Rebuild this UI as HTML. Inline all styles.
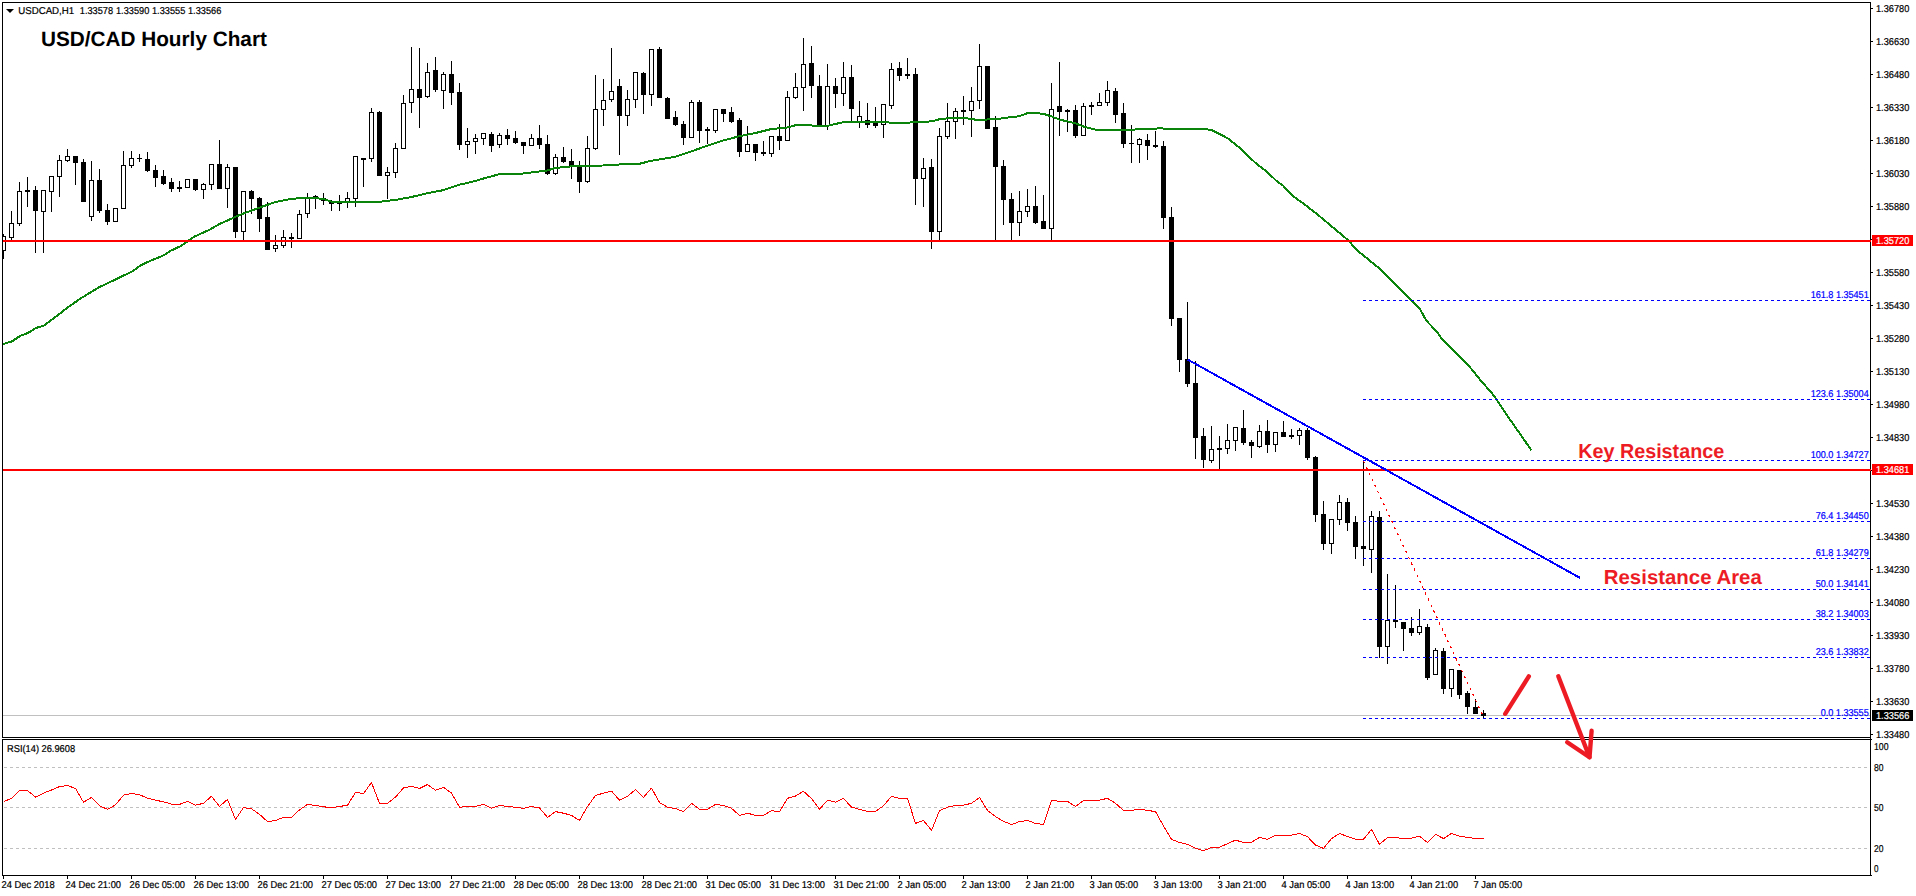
<!DOCTYPE html>
<html lang="en"><head><meta charset="utf-8"><title>USD/CAD Hourly Chart</title>
<style>html,body{margin:0;padding:0;background:#fff;overflow:hidden}svg{display:block}text{font-family:'Liberation Sans', sans-serif;white-space:pre;text-rendering:geometricPrecision}</style>
</head><body>
<svg width="1916" height="896" viewBox="0 0 1916 896">
<rect x="0" y="0" width="1916" height="896" fill="#fff"/>
<g shape-rendering="crispEdges">
<rect x="3" y="715" width="1867" height="1" fill="#c0c0c0"/>
<path fill="#000" d="M3 234h1v25h-1zM3 236h3v15h-3zM11 211h1v29h-1zM9 223h5v15h-5zM19 182h1v44h-1zM17 191h5v33h-5zM27 177h1v30h-1zM25 190h5v2h-5zM35 186h1v67h-1zM33 190h5v21h-5zM43 190h1v63h-1zM41 190h5v22h-5zM51 176h1v36h-1zM49 176h5v16h-5zM59 155h1v42h-1zM57 160h5v17h-5zM67 149h1v13h-1zM65 156h5v5h-5zM75 156h1v29h-1zM73 156h5v7h-5zM83 159h1v43h-1zM81 162h5v40h-5zM91 161h1v60h-1zM89 180h5v37h-5zM99 169h1v44h-1zM97 180h5v31h-5zM107 204h1v21h-1zM105 210h5v12h-5zM115 208h1v14h-1zM113 208h5v14h-5zM123 151h1v58h-1zM121 165h5v44h-5zM131 151h1v17h-1zM129 158h5v8h-5zM139 154h1v8h-1zM137 158h5v1h-5zM147 152h1v20h-1zM145 159h5v12h-5zM155 165h1v22h-1zM153 170h5v8h-5zM163 170h1v15h-1zM161 176h5v8h-5zM171 178h1v14h-1zM169 182h5v7h-5zM179 181h1v11h-1zM177 187h5v2h-5zM187 179h1v9h-1zM185 179h5v9h-5zM195 179h1v12h-1zM193 179h5v11h-5zM203 183h1v16h-1zM201 184h5v6h-5zM211 164h1v26h-1zM209 164h5v21h-5zM219 140h1v49h-1zM217 164h5v25h-5zM227 164h1v44h-1zM225 167h5v22h-5zM235 167h1v71h-1zM233 167h5v65h-5zM243 191h1v49h-1zM241 191h5v41h-5zM251 190h1v24h-1zM249 191h5v8h-5zM259 197h1v35h-1zM257 198h5v21h-5zM267 202h1v48h-1zM265 217h5v33h-5zM275 235h1v17h-1zM273 245h5v4h-5zM283 230h1v18h-1zM281 237h5v9h-5zM291 233h1v15h-1zM289 237h5v2h-5zM299 210h1v29h-1zM297 214h5v25h-5zM307 193h1v25h-1zM305 197h5v17h-5zM315 195h1v14h-1zM313 196h5v2h-5zM323 193h1v12h-1zM321 198h5v3h-5zM331 200h1v11h-1zM329 202h5v2h-5zM339 195h1v16h-1zM337 203h5v1h-5zM347 192h1v16h-1zM345 198h5v4h-5zM355 156h1v51h-1zM353 156h5v43h-5zM363 158h1v29h-1zM361 158h5v2h-5zM371 108h1v54h-1zM369 112h5v47h-5zM379 111h1v65h-1zM377 112h5v64h-5zM387 167h1v32h-1zM385 172h5v4h-5zM395 143h1v35h-1zM393 148h5v25h-5zM403 95h1v54h-1zM401 103h5v46h-5zM411 47h1v66h-1zM409 89h5v14h-5zM419 48h1v80h-1zM417 89h5v9h-5zM427 63h1v35h-1zM425 72h5v25h-5zM435 57h1v35h-1zM433 70h5v20h-5zM443 72h1v37h-1zM441 74h5v17h-5zM451 61h1v44h-1zM449 74h5v19h-5zM459 83h1v67h-1zM457 92h5v53h-5zM467 128h1v30h-1zM465 141h5v4h-5zM475 134h1v20h-1zM473 138h5v4h-5zM483 133h1v12h-1zM481 133h5v6h-5zM491 132h1v20h-1zM489 134h5v12h-5zM499 133h1v15h-1zM497 135h5v10h-5zM507 129h1v16h-1zM505 135h5v4h-5zM515 131h1v13h-1zM513 138h5v5h-5zM523 142h1v12h-1zM521 142h5v4h-5zM531 134h1v12h-1zM529 138h5v8h-5zM539 125h1v24h-1zM537 138h5v7h-5zM547 135h1v40h-1zM545 144h5v30h-5zM555 154h1v21h-1zM553 157h5v17h-5zM563 147h1v16h-1zM561 157h5v5h-5zM571 149h1v30h-1zM569 161h5v5h-5zM579 161h1v32h-1zM577 165h5v17h-5zM587 136h1v47h-1zM585 148h5v34h-5zM595 75h1v75h-1zM593 109h5v40h-5zM603 79h1v47h-1zM601 100h5v10h-5zM611 48h1v54h-1zM609 91h5v9h-5zM619 79h1v76h-1zM617 86h5v30h-5zM627 90h1v36h-1zM625 99h5v17h-5zM635 72h1v36h-1zM633 72h5v28h-5zM643 72h1v42h-1zM641 73h5v22h-5zM651 49h1v57h-1zM649 49h5v46h-5zM659 47h1v51h-1zM657 49h5v49h-5zM667 97h1v22h-1zM665 98h5v21h-5zM675 111h1v15h-1zM673 117h5v8h-5zM683 121h1v24h-1zM681 124h5v14h-5zM691 100h1v38h-1zM689 102h5v36h-5zM699 100h1v43h-1zM697 102h5v29h-5zM707 127h1v17h-1zM705 129h5v2h-5zM715 109h1v24h-1zM713 109h5v22h-5zM723 109h1v13h-1zM721 109h5v5h-5zM731 107h1v16h-1zM729 112h5v10h-5zM739 118h1v39h-1zM737 120h5v32h-5zM747 126h1v26h-1zM745 144h5v8h-5zM755 144h1v17h-1zM753 144h5v9h-5zM763 141h1v15h-1zM761 152h5v2h-5zM771 136h1v21h-1zM769 136h5v18h-5zM779 124h1v26h-1zM777 136h5v5h-5zM787 91h1v50h-1zM785 97h5v44h-5zM795 73h1v26h-1zM793 87h5v11h-5zM803 38h1v73h-1zM801 64h5v24h-5zM811 46h1v52h-1zM809 63h5v23h-5zM819 75h1v50h-1zM817 86h5v39h-5zM827 64h1v66h-1zM825 86h5v40h-5zM835 78h1v30h-1zM833 86h5v8h-5zM843 62h1v44h-1zM841 77h5v17h-5zM851 65h1v56h-1zM849 77h5v32h-5zM859 101h1v27h-1zM857 116h5v6h-5zM867 103h1v25h-1zM865 120h5v5h-5zM875 107h1v21h-1zM873 123h5v3h-5zM883 104h1v34h-1zM881 104h5v21h-5zM891 63h1v46h-1zM889 69h5v37h-5zM899 62h1v19h-1zM897 68h5v8h-5zM907 58h1v21h-1zM905 74h5v2h-5zM915 68h1v137h-1zM913 74h5v105h-5zM923 158h1v49h-1zM921 168h5v11h-5zM931 159h1v90h-1zM929 167h5v65h-5zM939 128h1v112h-1zM937 136h5v96h-5zM947 103h1v36h-1zM945 121h5v16h-5zM955 108h1v31h-1zM953 111h5v11h-5zM963 96h1v29h-1zM961 110h5v2h-5zM971 87h1v50h-1zM969 101h5v10h-5zM979 44h1v65h-1zM977 66h5v35h-5zM987 66h1v63h-1zM985 66h5v63h-5zM995 116h1v124h-1zM993 127h5v40h-5zM1003 160h1v65h-1zM1001 166h5v34h-5zM1011 193h1v47h-1zM1009 199h5v24h-5zM1019 191h1v45h-1zM1017 211h5v12h-5zM1027 189h1v28h-1zM1025 206h5v6h-5zM1035 186h1v38h-1zM1033 206h5v17h-5zM1043 195h1v34h-1zM1041 221h5v8h-5zM1051 83h1v157h-1zM1049 109h5v120h-5zM1059 62h1v74h-1zM1057 106h5v6h-5zM1067 109h1v23h-1zM1065 110h5v2h-5zM1075 105h1v33h-1zM1073 110h5v26h-5zM1083 103h1v33h-1zM1081 106h5v30h-5zM1091 102h1v13h-1zM1089 105h5v2h-5zM1099 93h1v13h-1zM1097 102h5v4h-5zM1107 81h1v25h-1zM1105 90h5v13h-5zM1115 88h1v35h-1zM1113 91h5v24h-5zM1123 103h1v45h-1zM1121 113h5v31h-5zM1131 125h1v38h-1zM1129 143h5v1h-5zM1139 138h1v25h-1zM1137 139h5v6h-5zM1147 134h1v26h-1zM1145 140h5v6h-5zM1155 131h1v17h-1zM1153 145h5v2h-5zM1163 141h1v88h-1zM1161 146h5v72h-5zM1171 207h1v119h-1zM1169 217h5v102h-5zM1179 318h1v54h-1zM1177 318h5v42h-5zM1187 302h1v85h-1zM1185 359h5v25h-5zM1195 361h1v98h-1zM1193 383h5v55h-5zM1203 428h1v40h-1zM1201 436h5v24h-5zM1211 426h1v37h-1zM1209 449h5v12h-5zM1219 436h1v33h-1zM1217 448h5v2h-5zM1227 424h1v30h-1zM1225 440h5v9h-5zM1235 427h1v24h-1zM1233 427h5v14h-5zM1243 410h1v35h-1zM1241 428h5v15h-5zM1251 440h1v18h-1zM1249 442h5v4h-5zM1259 425h1v23h-1zM1257 431h5v16h-5zM1267 420h1v33h-1zM1265 431h5v14h-5zM1275 432h1v20h-1zM1273 432h5v13h-5zM1283 421h1v16h-1zM1281 432h5v5h-5zM1291 429h1v10h-1zM1289 435h5v2h-5zM1299 428h1v17h-1zM1297 430h5v6h-5zM1307 428h1v32h-1zM1305 430h5v28h-5zM1315 456h1v66h-1zM1313 457h5v58h-5zM1323 501h1v49h-1zM1321 514h5v30h-5zM1331 519h1v35h-1zM1329 519h5v25h-5zM1339 495h1v30h-1zM1337 502h5v18h-5zM1347 498h1v33h-1zM1345 502h5v21h-5zM1355 516h1v43h-1zM1353 522h5v25h-5zM1363 461h1v105h-1zM1361 546h5v3h-5zM1371 511h1v62h-1zM1369 516h5v34h-5zM1379 511h1v147h-1zM1377 517h5v130h-5zM1387 574h1v90h-1zM1385 620h5v27h-5zM1395 585h1v43h-1zM1393 620h5v2h-5zM1403 622h1v29h-1zM1401 622h5v7h-5zM1411 617h1v19h-1zM1409 628h5v5h-5zM1419 609h1v26h-1zM1417 626h5v7h-5zM1427 624h1v56h-1zM1425 627h5v51h-5zM1435 648h1v27h-1zM1433 650h5v25h-5zM1443 648h1v46h-1zM1441 651h5v38h-5zM1451 669h1v28h-1zM1449 669h5v20h-5zM1459 670h1v29h-1zM1457 670h5v25h-5zM1467 691h1v23h-1zM1465 693h5v14h-5zM1475 699h1v15h-1zM1473 707h5v7h-5zM1483 710h1v8h-1zM1481 713h5v3h-5z"/>
<path fill="#fff" d="M3 237h2v13h-2zM10 224h3v13h-3zM18 192h3v31h-3zM42 191h3v20h-3zM50 177h3v14h-3zM58 161h3v15h-3zM66 157h3v3h-3zM90 181h3v35h-3zM114 209h3v12h-3zM122 166h3v42h-3zM130 159h3v6h-3zM186 180h3v7h-3zM202 185h3v4h-3zM210 165h3v19h-3zM226 168h3v20h-3zM242 192h3v39h-3zM274 246h3v2h-3zM282 238h3v7h-3zM298 215h3v23h-3zM306 198h3v15h-3zM346 199h3v2h-3zM354 157h3v41h-3zM370 113h3v45h-3zM386 173h3v2h-3zM394 149h3v23h-3zM402 104h3v44h-3zM410 90h3v12h-3zM426 73h3v23h-3zM442 75h3v15h-3zM466 142h3v2h-3zM474 139h3v2h-3zM482 134h3v4h-3zM498 136h3v8h-3zM530 139h3v6h-3zM554 158h3v15h-3zM586 149h3v32h-3zM594 110h3v38h-3zM602 101h3v8h-3zM610 92h3v7h-3zM626 100h3v15h-3zM634 73h3v26h-3zM650 50h3v44h-3zM690 103h3v34h-3zM714 110h3v20h-3zM746 145h3v6h-3zM770 137h3v16h-3zM786 98h3v42h-3zM794 88h3v9h-3zM802 65h3v22h-3zM826 87h3v38h-3zM842 78h3v15h-3zM858 117h3v4h-3zM882 105h3v19h-3zM890 70h3v35h-3zM922 169h3v9h-3zM938 137h3v94h-3zM946 122h3v14h-3zM954 112h3v9h-3zM970 102h3v8h-3zM978 67h3v33h-3zM1018 212h3v10h-3zM1026 207h3v4h-3zM1050 110h3v118h-3zM1082 107h3v28h-3zM1098 103h3v2h-3zM1106 91h3v11h-3zM1138 140h3v4h-3zM1210 450h3v10h-3zM1226 441h3v7h-3zM1234 428h3v12h-3zM1258 432h3v14h-3zM1274 433h3v11h-3zM1298 431h3v4h-3zM1330 520h3v23h-3zM1338 503h3v16h-3zM1370 517h3v32h-3zM1386 621h3v25h-3zM1418 627h3v5h-3zM1434 651h3v23h-3zM1450 670h3v18h-3z"/>
</g>
<polyline points="3.0,344.1 12.0,341.4 20.0,336.0 28.0,333.0 35.5,328.2 44.2,325.4 56.2,316.4 68.3,307.0 80.4,298.6 98.4,287.6 115.2,279.6 132.6,271.2 139.3,266.2 147.3,262.1 163.4,255.4 171.4,250.4 180.8,246.1 194.2,236.7 208.9,230.0 219.2,224.2 240.0,214.8 259.5,207.6 275.5,202.0 291.5,198.9 307.5,197.6 323.5,198.9 331.5,201.8 355.5,202.0 379.5,201.8 387.5,200.8 395.5,199.9 411.5,197.0 427.5,193.2 443.5,190.1 459.5,184.7 475.5,181.0 480.0,179.5 499.5,174.1 523.5,173.5 539.5,171.4 547.5,170.5 555.5,167.9 571.5,166.4 579.5,165.7 603.5,165.5 619.5,164.5 639.0,163.9 651.5,160.7 675.5,156.7 691.5,151.3 707.5,145.7 720.0,141.4 739.5,136.2 755.5,133.0 771.5,129.0 787.5,127.5 795.5,125.2 811.5,125.5 827.5,125.8 835.5,124.0 843.5,122.1 859.5,122.1 883.5,122.1 891.5,122.7 907.5,122.7 915.5,122.1 931.5,121.4 939.5,119.2 947.5,118.3 960.0,118.1 971.5,118.7 976.0,119.9 995.5,119.2 1011.5,117.1 1019.5,116.2 1027.5,113.1 1032.7,112.7 1043.5,113.9 1051.5,116.4 1059.5,119.6 1067.5,121.4 1075.5,123.3 1083.5,126.5 1091.5,128.7 1096.5,129.8 1123.5,129.8 1131.5,129.6 1155.4,129.0 1160.4,127.7 1164.2,129.0 1190.0,129.0 1203.2,129.0 1211.3,129.8 1227.6,138.2 1239.5,147.6 1255.1,162.6 1266.4,171.4 1277.7,182.0 1282.7,185.2 1292.7,195.8 1304.0,204.0 1315.3,212.7 1325.9,221.5 1348.4,240.4 1356.7,250.0 1381.3,270.0 1398.9,287.5 1407.6,296.3 1420.2,309.5 1426.4,320.7 1437.7,332.6 1441.5,338.3 1463.4,360.2 1471.5,369.0 1481.6,381.5 1491.4,392.6 1497.0,400.1 1505.1,412.6 1515.2,427.0 1531.4,450.2" fill="none" stroke="#0b840b" stroke-width="2" stroke-linejoin="round" stroke-linecap="butt" shape-rendering="crispEdges"/>
<g shape-rendering="crispEdges" stroke="#0000ff" stroke-width="1" stroke-dasharray="3 3">
<line x1="1363" y1="300.5" x2="1870" y2="300.5"/>
<line x1="1363" y1="399.5" x2="1870" y2="399.5"/>
<line x1="1363" y1="460.5" x2="1870" y2="460.5"/>
<line x1="1363" y1="521.5" x2="1870" y2="521.5"/>
<line x1="1363" y1="558.5" x2="1870" y2="558.5"/>
<line x1="1363" y1="589.5" x2="1870" y2="589.5"/>
<line x1="1363" y1="619.5" x2="1870" y2="619.5"/>
<line x1="1363" y1="657.5" x2="1870" y2="657.5"/>
<line x1="1363" y1="718.5" x2="1870" y2="718.5"/>
</g>
<line x1="1363.5" y1="461" x2="1484" y2="718" stroke="#ff0000" stroke-width="1.2" stroke-dasharray="2.4 4.2" shape-rendering="crispEdges"/>
<g shape-rendering="crispEdges" fill="#000">
<rect x="2" y="2" width="1869" height="1" fill="#000"/>
<rect x="2" y="2" width="1" height="736" fill="#000"/>
<rect x="2" y="739" width="1" height="137" fill="#000"/>
<rect x="1870" y="2" width="1" height="874" fill="#000"/>
<rect x="2" y="737" width="1869" height="1" fill="#000"/>
<rect x="2" y="739" width="1870" height="1" fill="#000"/>
<rect x="2" y="875" width="1870" height="1" fill="#000"/>
<rect x="1871" y="8" width="2" height="1" fill="#000"/>
<rect x="1871" y="41" width="2" height="1" fill="#000"/>
<rect x="1871" y="74" width="2" height="1" fill="#000"/>
<rect x="1871" y="107" width="2" height="1" fill="#000"/>
<rect x="1871" y="140" width="2" height="1" fill="#000"/>
<rect x="1871" y="173" width="2" height="1" fill="#000"/>
<rect x="1871" y="206" width="2" height="1" fill="#000"/>
<rect x="1871" y="239" width="2" height="1" fill="#000"/>
<rect x="1871" y="272" width="2" height="1" fill="#000"/>
<rect x="1871" y="305" width="2" height="1" fill="#000"/>
<rect x="1871" y="338" width="2" height="1" fill="#000"/>
<rect x="1871" y="371" width="2" height="1" fill="#000"/>
<rect x="1871" y="404" width="2" height="1" fill="#000"/>
<rect x="1871" y="437" width="2" height="1" fill="#000"/>
<rect x="1871" y="470" width="2" height="1" fill="#000"/>
<rect x="1871" y="503" width="2" height="1" fill="#000"/>
<rect x="1871" y="536" width="2" height="1" fill="#000"/>
<rect x="1871" y="569" width="2" height="1" fill="#000"/>
<rect x="1871" y="602" width="2" height="1" fill="#000"/>
<rect x="1871" y="635" width="2" height="1" fill="#000"/>
<rect x="1871" y="668" width="2" height="1" fill="#000"/>
<rect x="1871" y="701" width="2" height="1" fill="#000"/>
<rect x="1871" y="734" width="2" height="1" fill="#000"/>
<rect x="3" y="876" width="1" height="3" fill="#000"/>
<rect x="67" y="876" width="1" height="3" fill="#000"/>
<rect x="131" y="876" width="1" height="3" fill="#000"/>
<rect x="195" y="876" width="1" height="3" fill="#000"/>
<rect x="259" y="876" width="1" height="3" fill="#000"/>
<rect x="323" y="876" width="1" height="3" fill="#000"/>
<rect x="387" y="876" width="1" height="3" fill="#000"/>
<rect x="451" y="876" width="1" height="3" fill="#000"/>
<rect x="515" y="876" width="1" height="3" fill="#000"/>
<rect x="579" y="876" width="1" height="3" fill="#000"/>
<rect x="643" y="876" width="1" height="3" fill="#000"/>
<rect x="707" y="876" width="1" height="3" fill="#000"/>
<rect x="771" y="876" width="1" height="3" fill="#000"/>
<rect x="835" y="876" width="1" height="3" fill="#000"/>
<rect x="899" y="876" width="1" height="3" fill="#000"/>
<rect x="963" y="876" width="1" height="3" fill="#000"/>
<rect x="1027" y="876" width="1" height="3" fill="#000"/>
<rect x="1091" y="876" width="1" height="3" fill="#000"/>
<rect x="1155" y="876" width="1" height="3" fill="#000"/>
<rect x="1219" y="876" width="1" height="3" fill="#000"/>
<rect x="1283" y="876" width="1" height="3" fill="#000"/>
<rect x="1347" y="876" width="1" height="3" fill="#000"/>
<rect x="1411" y="876" width="1" height="3" fill="#000"/>
<rect x="1475" y="876" width="1" height="3" fill="#000"/>
</g>
<g shape-rendering="crispEdges">
<rect x="3" y="240" width="1868" height="2" fill="#ff0000"/>
<rect x="3" y="469" width="1868" height="2" fill="#ff0000"/>
</g>
<line x1="1187.8" y1="359.6" x2="1580.2" y2="578" stroke="#0000ff" stroke-width="2" shape-rendering="crispEdges"/>
<g shape-rendering="crispEdges" stroke="#c0c0c0" stroke-width="1" stroke-dasharray="3 3">
<line x1="4" y1="767.5" x2="1870" y2="767.5"/>
<line x1="4" y1="807.5" x2="1870" y2="807.5"/>
<line x1="4" y1="848.5" x2="1870" y2="848.5"/>
</g>
<polyline points="3.5,801.4 11.5,798.6 19.5,790.5 27.5,790.5 35.5,797.1 43.5,793.1 51.5,790.0 59.5,786.6 67.5,785.5 75.5,788.5 83.5,802.2 91.5,797.5 99.5,805.7 107.5,809.3 115.5,804.9 123.5,795.2 131.5,793.5 139.5,794.7 147.5,798.2 155.5,800.2 163.5,801.8 171.5,804.1 179.5,804.4 187.5,801.3 195.5,805.2 203.5,803.3 211.5,796.3 219.5,806.5 227.5,799.4 235.5,819.5 243.5,807.6 251.5,808.8 259.5,814.3 267.5,821.6 275.5,820.5 283.5,817.4 291.5,817.4 299.5,809.9 307.5,804.4 315.5,805.4 323.5,806.8 331.5,807.6 339.5,806.5 347.5,805.2 355.5,792.4 363.5,793.5 371.5,782.5 379.5,803.3 387.5,803.3 395.5,797.1 403.5,788.0 411.5,786.4 419.5,788.5 427.5,784.5 435.5,790.3 443.5,787.4 451.5,793.1 459.5,807.2 467.5,806.5 475.5,806.5 483.5,804.4 491.5,808.3 499.5,805.4 507.5,806.5 515.5,807.2 523.5,808.3 531.5,806.5 539.5,808.0 547.5,817.4 555.5,811.6 563.5,813.2 571.5,815.4 579.5,820.5 587.5,806.5 595.5,795.5 603.5,793.1 611.5,791.1 619.5,800.2 627.5,796.3 635.5,789.5 643.5,797.4 651.5,788.1 659.5,802.5 667.5,807.2 675.5,808.5 683.5,811.6 691.5,803.3 699.5,809.3 707.5,809.3 715.5,804.4 723.5,805.4 731.5,808.3 739.5,815.5 747.5,813.2 755.5,815.4 763.5,815.4 771.5,810.7 779.5,811.6 787.5,798.3 795.5,796.0 803.5,791.3 811.5,798.6 819.5,809.3 827.5,800.2 835.5,802.2 843.5,798.3 851.5,807.2 859.5,809.3 867.5,811.5 875.5,811.5 883.5,805.7 891.5,796.3 899.5,798.3 907.5,798.3 915.5,823.4 923.5,820.5 931.5,830.4 939.5,810.7 947.5,807.2 955.5,805.4 963.5,805.2 971.5,803.3 979.5,797.5 987.5,810.4 995.5,816.6 1003.5,821.3 1011.5,824.5 1019.5,821.6 1027.5,820.5 1035.5,823.4 1043.5,824.5 1051.5,800.2 1059.5,801.3 1067.5,801.4 1075.5,806.5 1083.5,800.5 1091.5,800.5 1099.5,800.2 1107.5,798.3 1115.5,803.3 1123.5,810.4 1131.5,810.4 1139.5,809.3 1147.5,810.4 1155.5,811.6 1163.5,826.0 1171.5,839.3 1179.5,842.5 1187.5,844.3 1195.5,848.3 1203.5,850.6 1211.5,847.5 1219.5,847.2 1227.5,843.7 1235.5,840.1 1243.5,842.5 1251.5,842.2 1259.5,837.5 1267.5,839.3 1275.5,835.4 1283.5,835.4 1291.5,835.1 1299.5,833.4 1307.5,836.7 1315.5,845.1 1323.5,848.4 1331.5,838.6 1339.5,833.5 1347.5,836.5 1355.5,839.3 1363.5,839.3 1371.5,829.5 1379.5,844.3 1387.5,837.5 1395.5,837.5 1403.5,838.6 1411.5,838.2 1419.5,836.2 1427.5,842.5 1435.5,834.3 1443.5,838.6 1451.5,833.4 1459.5,836.2 1467.5,837.3 1475.5,838.6 1483.5,838.6" fill="none" stroke="#ff0000" stroke-width="1" stroke-linejoin="round" shape-rendering="crispEdges"/>
<g>
<text x="1876" y="12" font-size="10.0" fill="#000" textLength="33.3" lengthAdjust="spacingAndGlyphs" stroke="#000" stroke-width="0.22">1.36780</text>
<text x="1876" y="45" font-size="10.0" fill="#000" textLength="33.3" lengthAdjust="spacingAndGlyphs" stroke="#000" stroke-width="0.22">1.36630</text>
<text x="1876" y="78" font-size="10.0" fill="#000" textLength="33.3" lengthAdjust="spacingAndGlyphs" stroke="#000" stroke-width="0.22">1.36480</text>
<text x="1876" y="111" font-size="10.0" fill="#000" textLength="33.3" lengthAdjust="spacingAndGlyphs" stroke="#000" stroke-width="0.22">1.36330</text>
<text x="1876" y="144" font-size="10.0" fill="#000" textLength="33.3" lengthAdjust="spacingAndGlyphs" stroke="#000" stroke-width="0.22">1.36180</text>
<text x="1876" y="177" font-size="10.0" fill="#000" textLength="33.3" lengthAdjust="spacingAndGlyphs" stroke="#000" stroke-width="0.22">1.36030</text>
<text x="1876" y="210" font-size="10.0" fill="#000" textLength="33.3" lengthAdjust="spacingAndGlyphs" stroke="#000" stroke-width="0.22">1.35880</text>
<text x="1876" y="276" font-size="10.0" fill="#000" textLength="33.3" lengthAdjust="spacingAndGlyphs" stroke="#000" stroke-width="0.22">1.35580</text>
<text x="1876" y="309" font-size="10.0" fill="#000" textLength="33.3" lengthAdjust="spacingAndGlyphs" stroke="#000" stroke-width="0.22">1.35430</text>
<text x="1876" y="342" font-size="10.0" fill="#000" textLength="33.3" lengthAdjust="spacingAndGlyphs" stroke="#000" stroke-width="0.22">1.35280</text>
<text x="1876" y="375" font-size="10.0" fill="#000" textLength="33.3" lengthAdjust="spacingAndGlyphs" stroke="#000" stroke-width="0.22">1.35130</text>
<text x="1876" y="408" font-size="10.0" fill="#000" textLength="33.3" lengthAdjust="spacingAndGlyphs" stroke="#000" stroke-width="0.22">1.34980</text>
<text x="1876" y="441" font-size="10.0" fill="#000" textLength="33.3" lengthAdjust="spacingAndGlyphs" stroke="#000" stroke-width="0.22">1.34830</text>
<text x="1876" y="507" font-size="10.0" fill="#000" textLength="33.3" lengthAdjust="spacingAndGlyphs" stroke="#000" stroke-width="0.22">1.34530</text>
<text x="1876" y="540" font-size="10.0" fill="#000" textLength="33.3" lengthAdjust="spacingAndGlyphs" stroke="#000" stroke-width="0.22">1.34380</text>
<text x="1876" y="573" font-size="10.0" fill="#000" textLength="33.3" lengthAdjust="spacingAndGlyphs" stroke="#000" stroke-width="0.22">1.34230</text>
<text x="1876" y="606" font-size="10.0" fill="#000" textLength="33.3" lengthAdjust="spacingAndGlyphs" stroke="#000" stroke-width="0.22">1.34080</text>
<text x="1876" y="639" font-size="10.0" fill="#000" textLength="33.3" lengthAdjust="spacingAndGlyphs" stroke="#000" stroke-width="0.22">1.33930</text>
<text x="1876" y="672" font-size="10.0" fill="#000" textLength="33.3" lengthAdjust="spacingAndGlyphs" stroke="#000" stroke-width="0.22">1.33780</text>
<text x="1876" y="705" font-size="10.0" fill="#000" textLength="33.3" lengthAdjust="spacingAndGlyphs" stroke="#000" stroke-width="0.22">1.33630</text>
<text x="1876" y="738" font-size="10.0" fill="#000" textLength="33.3" lengthAdjust="spacingAndGlyphs" stroke="#000" stroke-width="0.22">1.33480</text>
<rect x="1872" y="235" width="41" height="11" fill="#ff0000"/>
<text x="1876" y="244" font-size="10.0" fill="#fff" textLength="33.3" lengthAdjust="spacingAndGlyphs" stroke="#fff" stroke-width="0.22">1.35720</text>
<rect x="1872" y="464" width="41" height="11" fill="#ff0000"/>
<text x="1876" y="473" font-size="10.0" fill="#fff" textLength="33.3" lengthAdjust="spacingAndGlyphs" stroke="#fff" stroke-width="0.22">1.34681</text>
<rect x="1872" y="710" width="41" height="11" fill="#000"/>
<text x="1876" y="719" font-size="10.0" fill="#fff" textLength="33.3" lengthAdjust="spacingAndGlyphs" stroke="#fff" stroke-width="0.22">1.33566</text>
<text x="1874" y="750" font-size="10.0" fill="#000" textLength="14.5" lengthAdjust="spacingAndGlyphs" stroke="#000" stroke-width="0.22">100</text>
<text x="1874" y="771" font-size="10.0" fill="#000" textLength="9.5" lengthAdjust="spacingAndGlyphs" stroke="#000" stroke-width="0.22">80</text>
<text x="1874" y="811" font-size="10.0" fill="#000" textLength="9.5" lengthAdjust="spacingAndGlyphs" stroke="#000" stroke-width="0.22">50</text>
<text x="1874" y="852" font-size="10.0" fill="#000" textLength="9.5" lengthAdjust="spacingAndGlyphs" stroke="#000" stroke-width="0.22">20</text>
<text x="1874" y="872" font-size="10.0" fill="#000" textLength="4.5" lengthAdjust="spacingAndGlyphs" stroke="#000" stroke-width="0.22">0</text>
<text x="1868.7" y="298" font-size="10.0" fill="#0000ff" text-anchor="end" textLength="58" lengthAdjust="spacingAndGlyphs" stroke="#0000ff" stroke-width="0.22">161.8 1.35451</text>
<text x="1868.7" y="397" font-size="10.0" fill="#0000ff" text-anchor="end" textLength="58" lengthAdjust="spacingAndGlyphs" stroke="#0000ff" stroke-width="0.22">123.6 1.35004</text>
<text x="1868.7" y="458" font-size="10.0" fill="#0000ff" text-anchor="end" textLength="58" lengthAdjust="spacingAndGlyphs" stroke="#0000ff" stroke-width="0.22">100.0 1.34727</text>
<text x="1868.7" y="519" font-size="10.0" fill="#0000ff" text-anchor="end" textLength="53" lengthAdjust="spacingAndGlyphs" stroke="#0000ff" stroke-width="0.22">76.4 1.34450</text>
<text x="1868.7" y="556" font-size="10.0" fill="#0000ff" text-anchor="end" textLength="53" lengthAdjust="spacingAndGlyphs" stroke="#0000ff" stroke-width="0.22">61.8 1.34279</text>
<text x="1868.7" y="587" font-size="10.0" fill="#0000ff" text-anchor="end" textLength="53" lengthAdjust="spacingAndGlyphs" stroke="#0000ff" stroke-width="0.22">50.0 1.34141</text>
<text x="1868.7" y="617" font-size="10.0" fill="#0000ff" text-anchor="end" textLength="53" lengthAdjust="spacingAndGlyphs" stroke="#0000ff" stroke-width="0.22">38.2 1.34003</text>
<text x="1868.7" y="655" font-size="10.0" fill="#0000ff" text-anchor="end" textLength="53" lengthAdjust="spacingAndGlyphs" stroke="#0000ff" stroke-width="0.22">23.6 1.33832</text>
<text x="1868.7" y="716" font-size="10.0" fill="#0000ff" text-anchor="end" textLength="48" lengthAdjust="spacingAndGlyphs" stroke="#0000ff" stroke-width="0.22">0.0 1.33555</text>
<text x="1.6" y="888" font-size="10.0" fill="#000" textLength="53" lengthAdjust="spacingAndGlyphs" stroke="#000" stroke-width="0.22">24 Dec 2018</text>
<text x="65.6" y="888" font-size="10.0" fill="#000" textLength="55.4" lengthAdjust="spacingAndGlyphs" stroke="#000" stroke-width="0.22">24 Dec 21:00</text>
<text x="129.6" y="888" font-size="10.0" fill="#000" textLength="55.4" lengthAdjust="spacingAndGlyphs" stroke="#000" stroke-width="0.22">26 Dec 05:00</text>
<text x="193.6" y="888" font-size="10.0" fill="#000" textLength="55.4" lengthAdjust="spacingAndGlyphs" stroke="#000" stroke-width="0.22">26 Dec 13:00</text>
<text x="257.6" y="888" font-size="10.0" fill="#000" textLength="55.4" lengthAdjust="spacingAndGlyphs" stroke="#000" stroke-width="0.22">26 Dec 21:00</text>
<text x="321.6" y="888" font-size="10.0" fill="#000" textLength="55.4" lengthAdjust="spacingAndGlyphs" stroke="#000" stroke-width="0.22">27 Dec 05:00</text>
<text x="385.6" y="888" font-size="10.0" fill="#000" textLength="55.4" lengthAdjust="spacingAndGlyphs" stroke="#000" stroke-width="0.22">27 Dec 13:00</text>
<text x="449.6" y="888" font-size="10.0" fill="#000" textLength="55.4" lengthAdjust="spacingAndGlyphs" stroke="#000" stroke-width="0.22">27 Dec 21:00</text>
<text x="513.6" y="888" font-size="10.0" fill="#000" textLength="55.4" lengthAdjust="spacingAndGlyphs" stroke="#000" stroke-width="0.22">28 Dec 05:00</text>
<text x="577.6" y="888" font-size="10.0" fill="#000" textLength="55.4" lengthAdjust="spacingAndGlyphs" stroke="#000" stroke-width="0.22">28 Dec 13:00</text>
<text x="641.6" y="888" font-size="10.0" fill="#000" textLength="55.4" lengthAdjust="spacingAndGlyphs" stroke="#000" stroke-width="0.22">28 Dec 21:00</text>
<text x="705.6" y="888" font-size="10.0" fill="#000" textLength="55.4" lengthAdjust="spacingAndGlyphs" stroke="#000" stroke-width="0.22">31 Dec 05:00</text>
<text x="769.6" y="888" font-size="10.0" fill="#000" textLength="55.4" lengthAdjust="spacingAndGlyphs" stroke="#000" stroke-width="0.22">31 Dec 13:00</text>
<text x="833.6" y="888" font-size="10.0" fill="#000" textLength="55.4" lengthAdjust="spacingAndGlyphs" stroke="#000" stroke-width="0.22">31 Dec 21:00</text>
<text x="897.6" y="888" font-size="10.0" fill="#000" textLength="48.6" lengthAdjust="spacingAndGlyphs" stroke="#000" stroke-width="0.22">2 Jan 05:00</text>
<text x="961.6" y="888" font-size="10.0" fill="#000" textLength="48.6" lengthAdjust="spacingAndGlyphs" stroke="#000" stroke-width="0.22">2 Jan 13:00</text>
<text x="1025.6" y="888" font-size="10.0" fill="#000" textLength="48.6" lengthAdjust="spacingAndGlyphs" stroke="#000" stroke-width="0.22">2 Jan 21:00</text>
<text x="1089.6" y="888" font-size="10.0" fill="#000" textLength="48.6" lengthAdjust="spacingAndGlyphs" stroke="#000" stroke-width="0.22">3 Jan 05:00</text>
<text x="1153.6" y="888" font-size="10.0" fill="#000" textLength="48.6" lengthAdjust="spacingAndGlyphs" stroke="#000" stroke-width="0.22">3 Jan 13:00</text>
<text x="1217.6" y="888" font-size="10.0" fill="#000" textLength="48.6" lengthAdjust="spacingAndGlyphs" stroke="#000" stroke-width="0.22">3 Jan 21:00</text>
<text x="1281.6" y="888" font-size="10.0" fill="#000" textLength="48.6" lengthAdjust="spacingAndGlyphs" stroke="#000" stroke-width="0.22">4 Jan 05:00</text>
<text x="1345.6" y="888" font-size="10.0" fill="#000" textLength="48.6" lengthAdjust="spacingAndGlyphs" stroke="#000" stroke-width="0.22">4 Jan 13:00</text>
<text x="1409.6" y="888" font-size="10.0" fill="#000" textLength="48.6" lengthAdjust="spacingAndGlyphs" stroke="#000" stroke-width="0.22">4 Jan 21:00</text>
<text x="1473.6" y="888" font-size="10.0" fill="#000" textLength="48.6" lengthAdjust="spacingAndGlyphs" stroke="#000" stroke-width="0.22">7 Jan 05:00</text>
<path d="M6 9h8l-4 4z" fill="#000"/>
<text y="14" font-size="10" fill="#000" stroke="#000" stroke-width="0.22"><tspan x="18.2" textLength="56" lengthAdjust="spacingAndGlyphs">USDCAD,H1</tspan><tspan x="79.8" textLength="33.3" lengthAdjust="spacingAndGlyphs">1.33578</tspan><tspan x="116" textLength="33.3" lengthAdjust="spacingAndGlyphs">1.33590</tspan><tspan x="152" textLength="33.3" lengthAdjust="spacingAndGlyphs">1.33555</tspan><tspan x="188" textLength="33.3" lengthAdjust="spacingAndGlyphs">1.33566</tspan></text>
<text y="752" font-size="10" fill="#000" stroke="#000" stroke-width="0.22"><tspan x="7" textLength="32" lengthAdjust="spacingAndGlyphs">RSI(14)</tspan><tspan x="41.5" textLength="33.6" lengthAdjust="spacingAndGlyphs">26.9608</tspan></text>
<text x="40.9" y="45.5" font-size="20.8" fill="#000" textLength="226" lengthAdjust="spacingAndGlyphs" font-weight="bold">USD/CAD Hourly Chart</text>
<text x="1578.2" y="457.6" font-size="20.2" fill="#ed1c24" textLength="146" lengthAdjust="spacingAndGlyphs" font-weight="bold">Key Resistance</text>
<text x="1603.8" y="583.9" font-size="20.2" fill="#ed1c24" textLength="158" lengthAdjust="spacingAndGlyphs" font-weight="bold">Resistance Area</text>
</g>
<g fill="none" stroke="#ed1c24" stroke-width="4.4" stroke-linecap="round" stroke-linejoin="round">
<path d="M1505.2 713.8L1528.8 676.4"/>
<path d="M1558.3 676.2L1589.5 757.3"/>
<path d="M1567.2 742.2L1589.5 757.3L1591.6 730.8"/>
</g>
</svg>
</body></html>
